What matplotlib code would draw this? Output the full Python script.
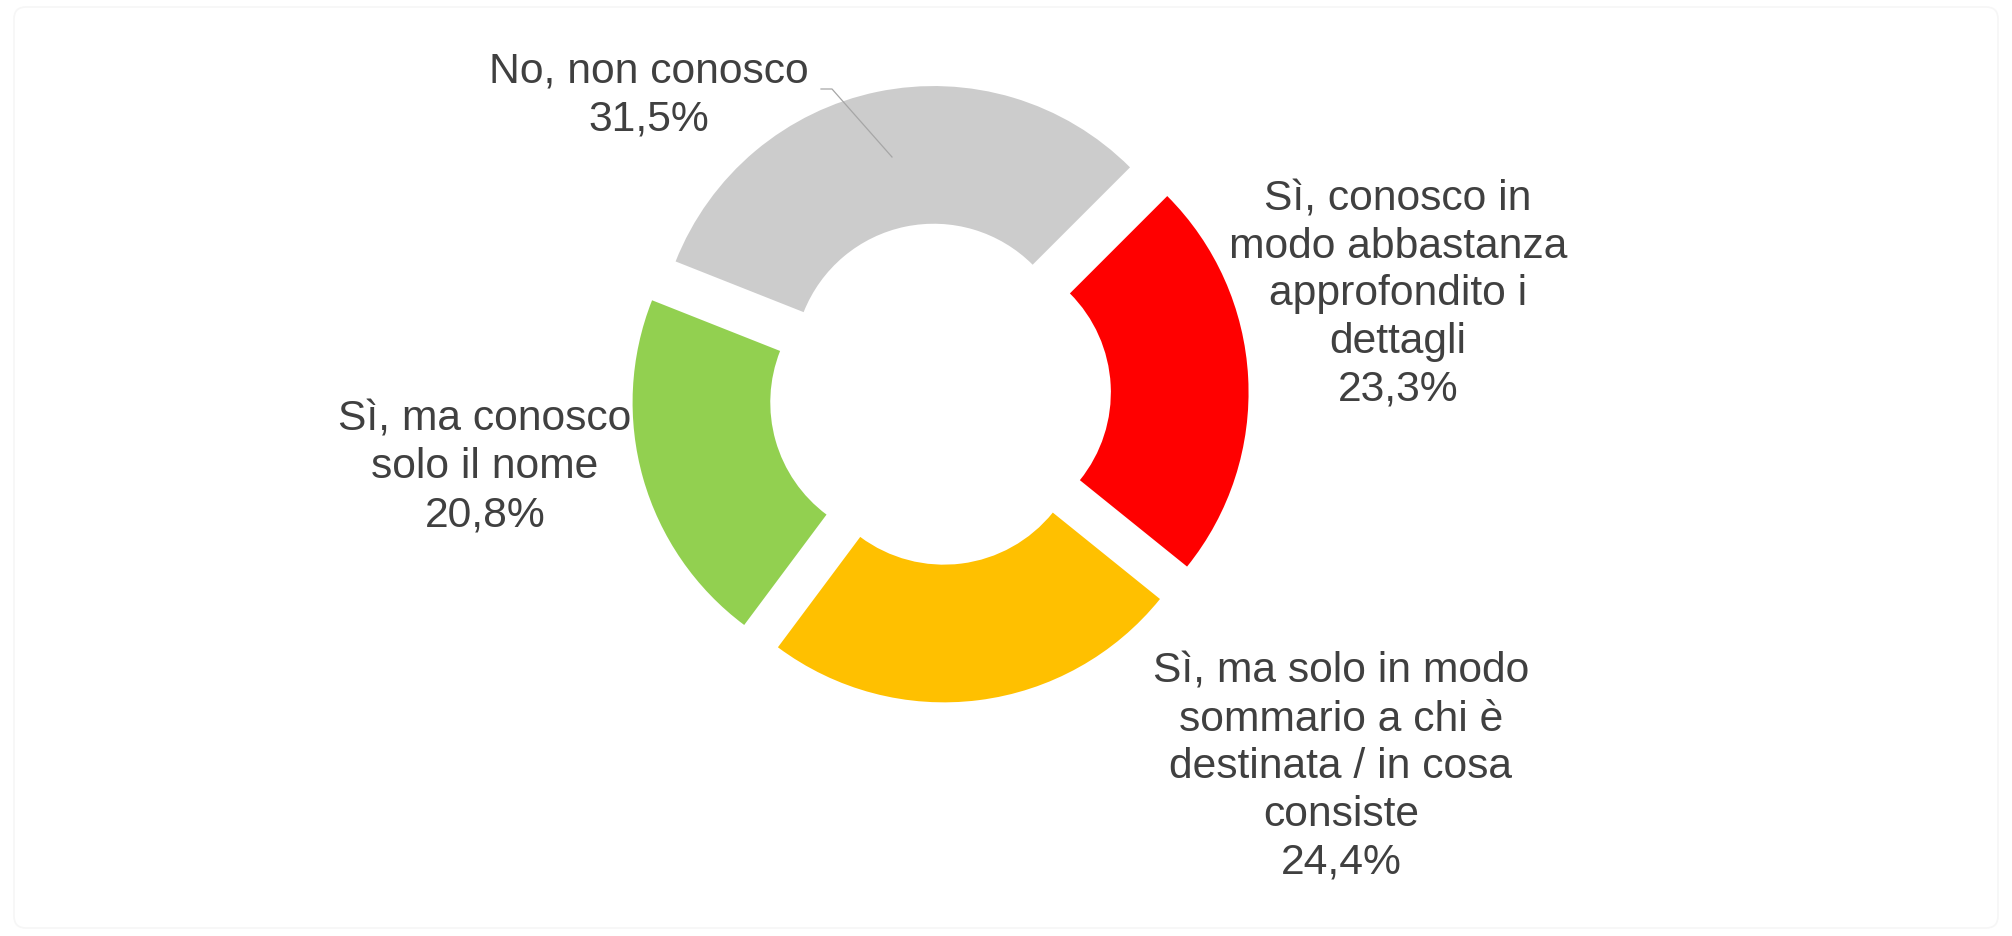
import matplotlib.pyplot as plt
from matplotlib.patches import FancyBboxPatch

# data (clockwise from the top-right gap)
categories = ['Sì, conosco in\nmodo abbastanza\napprofondito i\ndettagli',
              'Sì, ma solo in modo\nsommario a chi è\ndestinata / in cosa\nconsiste',
              'Sì, ma conosco\nsolo il nome',
              'No, non conosco']
values = [23.3, 24.4, 20.8, 31.5]
colors = ['#ff0000', '#ffc000', '#92d050', '#cccccc']

W, H = 2012, 937
# label anchor points (x centre, y of last baseline) in pixels from top-left
label_pos = [(1398, 401), (1341, 874), (485, 526), (649, 130)]

plt.rcParams['font.family'] = ['Liberation Sans', 'DejaVu Sans']

fig = plt.figure(figsize=(W / 100, H / 100), dpi=100)
ax = fig.add_axes([0, 0, 1, 1])

R = 277.6
ax.pie(values, colors=colors, startangle=45, counterclock=False,
       radius=R, center=(940, H - 395), explode=[31] * len(values),
       wedgeprops=dict(width=137.7, linewidth=0))

ax.set_xlim(0, W)
ax.set_ylim(0, H)
ax.set_aspect('equal')
ax.axis('off')

for lab, v, (x, y) in zip(categories, values, label_pos):
    txt = lab + '\n' + f'{v:.1f}%'.replace('.', ',')
    ax.text(x, H - y, txt, ha='center', va='baseline', multialignment='center',
            fontsize=30.7, color='#404040', linespacing=1.25)

# leader line for the grey slice
ax.plot([821, 832, 892], [H - 90, H - 90, H - 158], color='#a6a6a6', lw=0.9)

# faint frame around the chart area
ax.add_patch(FancyBboxPatch((14, 8), W - 28, H - 16, boxstyle='round,pad=0,rounding_size=12',
                            fill=False, edgecolor='#f6f6f6', lw=1.2))

fig.savefig('out.png', dpi=100)
